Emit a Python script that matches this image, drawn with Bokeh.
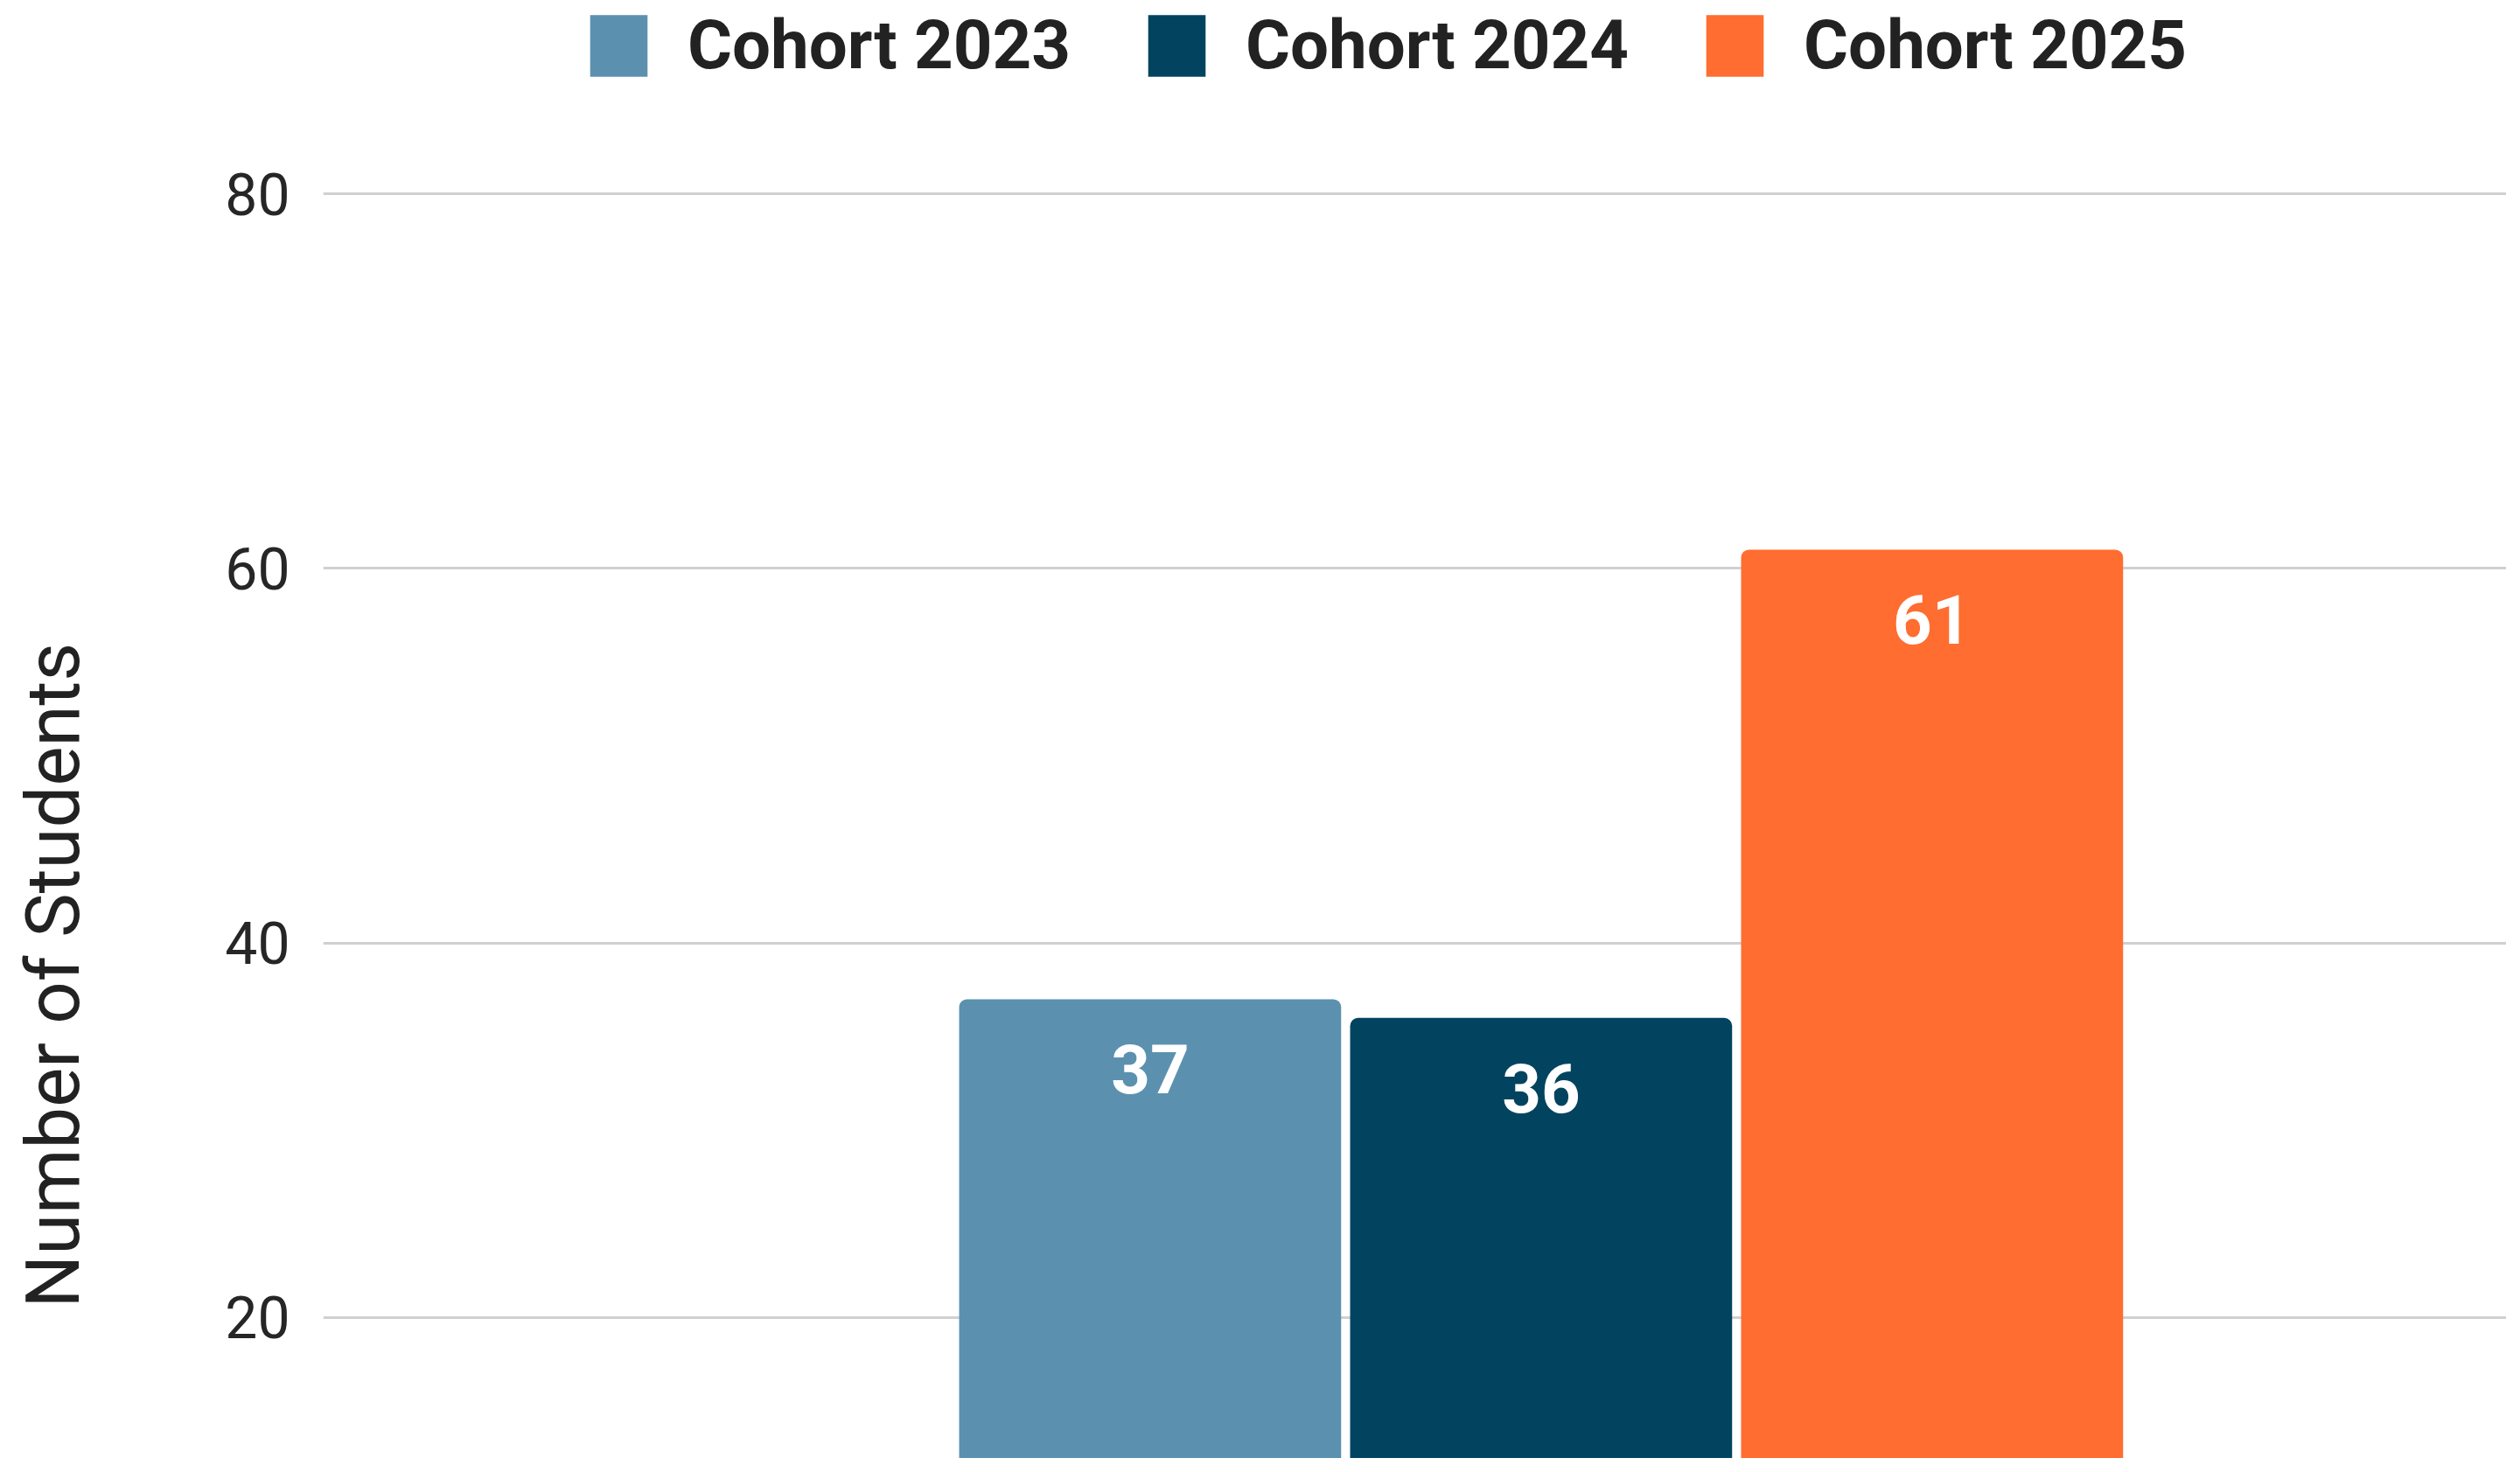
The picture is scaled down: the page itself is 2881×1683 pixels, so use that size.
from bokeh.plotting import figure
from bokeh.models import Range1d, FixedTicker, ColumnDataSource, Legend, LegendItem, Title
from bokeh.core.properties import value
from bokeh.embed import file_html
from bokeh.resources import INLINE

cohorts = ["Cohort 2023", "Cohort 2024", "Cohort 2025"]
students = [37, 36, 61]
colors = ["#5b91af", "#02445f", "#ff6d30"]
y_ticks = [20, 40, 60, 80]
y_title = "Number of Students"

positions = list(range(len(cohorts)))
labels = [str(v) for v in students]

p = figure(width=2865, height=1667, output_backend="svg", toolbar_location=None,
           x_range=Range1d(-2.115, 3.469), y_range=Range1d(12.48, 90.32),
           x_axis_location=None, min_border_left=369, min_border_right=0,
           min_border_top=0, min_border_bottom=0)
p.outline_line_color = None
p.background_fill_color = "white"
p.border_fill_color = "white"

# axis
yax = p.yaxis[0]
yax.ticker = FixedTicker(ticks=y_ticks)
yax.axis_line_color = None
yax.major_tick_line_color = None
yax.minor_tick_line_color = None
yax.major_tick_out = 0
yax.major_tick_in = 0
yax.major_label_standoff = 38
yax.major_label_text_font = "Roboto"
yax.major_label_text_font_size = "66px"
yax.major_label_text_color = "#262626"
# blank spacer label: keeps room between tick labels and the axis title
yax.axis_label = " "
yax.axis_label_text_font_size = "1px"
yax.axis_label_standoff = 137

p.xgrid.visible = False
p.ygrid.ticker = FixedTicker(ticks=y_ticks)
p.ygrid.grid_line_color = "#d0d0d0"
p.ygrid.grid_line_width = 3

t = Title(text=y_title, align="left", offset=172,
          text_font="Roboto", text_font_size="85px", text_font_style="normal",
          text_color="#222222", standoff=6)
p.add_layout(t, "left")

items = []
for i, (c, v, col) in enumerate(zip(cohorts, students, colors)):
    src = ColumnDataSource(dict(x=[positions[i]], top=[v], label=[labels[i]]))
    r = p.vbar(x="x", top="top", bottom=0, width=0.977, source=src,
               fill_color=col, line_color=None, border_radius=(9, 9, 0, 0))
    p.text(x="x", y="top", text="label", source=src, text_align="center",
           text_baseline="middle", y_offset=80, text_color="white",
           text_font=value("Roboto"), text_font_style="bold", text_font_size="78px")
    items.append(LegendItem(label=c, renderers=[r]))

legend = Legend(items=items, orientation="horizontal", location=(297, 1570),
                glyph_width=82, glyph_height=88, label_standoff=38, spacing=80,
                label_text_font="Roboto", label_text_font_style="bold",
                label_text_font_size="78px", label_text_color="#222222",
                padding=0, margin=0, border_line_color=None,
                background_fill_alpha=0)
p.add_layout(legend, "center")

open("out.html", "w").write(file_html(p, INLINE))
